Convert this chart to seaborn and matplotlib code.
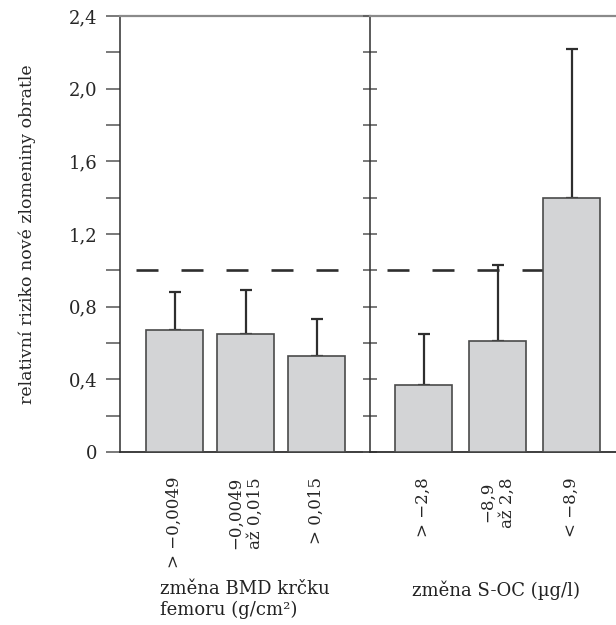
import matplotlib
matplotlib.use("Agg")
import matplotlib.pyplot as plt
import seaborn as sns
import numpy as np
import pandas as pd

# data
bmd_labels = ["> \u22120,0049", "\u22120,0049\naž 0,015", "> 0,015"]
bmd_values = [0.67, 0.65, 0.53]
bmd_upper = [0.88, 0.89, 0.73]

soc_labels = ["> \u22122,8", "\u22128,9\naž 2,8", "< \u22128,9"]
soc_values = [0.37, 0.61, 1.40]
soc_upper = [0.65, 1.03, 2.22]

y_ticks = [0, 0.4, 0.8, 1.2, 1.6, 2.0, 2.4]
y_tick_labels = ["0", "0,4", "0,8", "1,2", "1,6", "2,0", "2,4"]
reference_level = 1.0

sns.set_style("white")
plt.rcParams["font.family"] = ["DejaVu Serif"]
plt.rcParams["font.size"] = 13

bar_color = "#d3d4d6"
edge_color = "#4a4a4a"
dark = "#2e2e2e"
grey_line = "#8a8a8a"

fig = plt.figure(figsize=(6.16, 6.25), dpi=100)
W, H = 616, 625
y0, y1 = 452, 16
ax1 = fig.add_axes([120 / W, 1 - y0 / H, 250 / W, (y0 - y1) / H])
ax2 = fig.add_axes([370 / W, 1 - y0 / H, 246 / W, (y0 - y1) / H])

df1 = pd.DataFrame({"group": bmd_labels, "value": bmd_values})
df2 = pd.DataFrame({"group": soc_labels, "value": soc_values})

sns.barplot(data=df1, x="group", y="value", order=bmd_labels, color=bar_color,
            width=0.8, errorbar=None, edgecolor=edge_color, linewidth=1.2,
            saturation=1, ax=ax1, zorder=3)
sns.barplot(data=df2, x="group", y="value", order=soc_labels, color=bar_color,
            width=0.77, errorbar=None, edgecolor=edge_color, linewidth=1.2,
            saturation=1, ax=ax2, zorder=3)

# one-sided (upper) error bars
for ax, vals, ups in [(ax1, bmd_values, bmd_upper), (ax2, soc_values, soc_upper)]:
    vals = np.array(vals)
    ups = np.array(ups)
    ax.errorbar(np.arange(len(vals)), vals,
                yerr=[np.zeros_like(vals), ups - vals], fmt="none",
                ecolor=dark, elinewidth=1.6, capsize=4, capthick=1.6, zorder=2)

# dashed reference line at RR = 1
lw = 1.9
dash = (22 * 0.72 / lw, 23 * 0.72 / lw)
ax1.axhline(reference_level, xmin=0.064, xmax=0.885, color=dark, lw=lw,
            ls=(0, dash), zorder=1)
ax2.axhline(reference_level, xmin=0.069, xmax=0.89, color=dark, lw=lw,
            ls=(0, dash), zorder=1)

ax1.set_xlim(-54.5 / 71, 195.5 / 71)
ax2.set_xlim(-53.5 / 74, 192.5 / 74)

for ax in (ax1, ax2):
    ax.set_ylim(0, 2.4)
    ax.set_yticks(y_ticks)
    ax.set_yticks(np.arange(0.2, 2.4, 0.4), minor=True)
    ax.set_xlabel("")
    ax.set_ylabel("")
    ax.spines["right"].set_visible(False)
    ax.spines["top"].set_color(grey_line)
    ax.spines["top"].set_linewidth(1.6)
    ax.spines["bottom"].set_color(dark)
    ax.spines["bottom"].set_linewidth(1.3)
    ax.spines["left"].set_color(dark)
    ax.spines["left"].set_linewidth(1.1)
    ax.tick_params(axis="x", bottom=False, length=0, pad=18, labelsize=12,
                   labelrotation=90)
    for lab in ax.get_xticklabels():
        lab.set_multialignment("center")
        lab.set_verticalalignment("top")

ax1.set_yticklabels(y_tick_labels)
ax1.tick_params(axis="y", which="both", left=True, direction="out", length=10,
                width=1.1, color="#555555", pad=6, labelsize=13)
ax2.tick_params(axis="y", which="both", left=True, direction="inout", length=10,
                width=1.1, color="#555555", labelleft=False)

ax1.set_ylabel("relativní riziko nové zlomeniny obratle", fontsize=12.5)
ax1.yaxis.set_label_coords((36 - 120) / 250, 0.5)

fig.text(160 / W, 1 - 580 / H, "změna BMD krčku\nfemoru (g/cm²)",
         ha="left", va="top", fontsize=13, color="#222222")
fig.text(412 / W, 1 - 580 / H, "změna S-OC (µg/l)",
         ha="left", va="top", fontsize=13, color="#222222")

fig.savefig("out.png", dpi=100)
